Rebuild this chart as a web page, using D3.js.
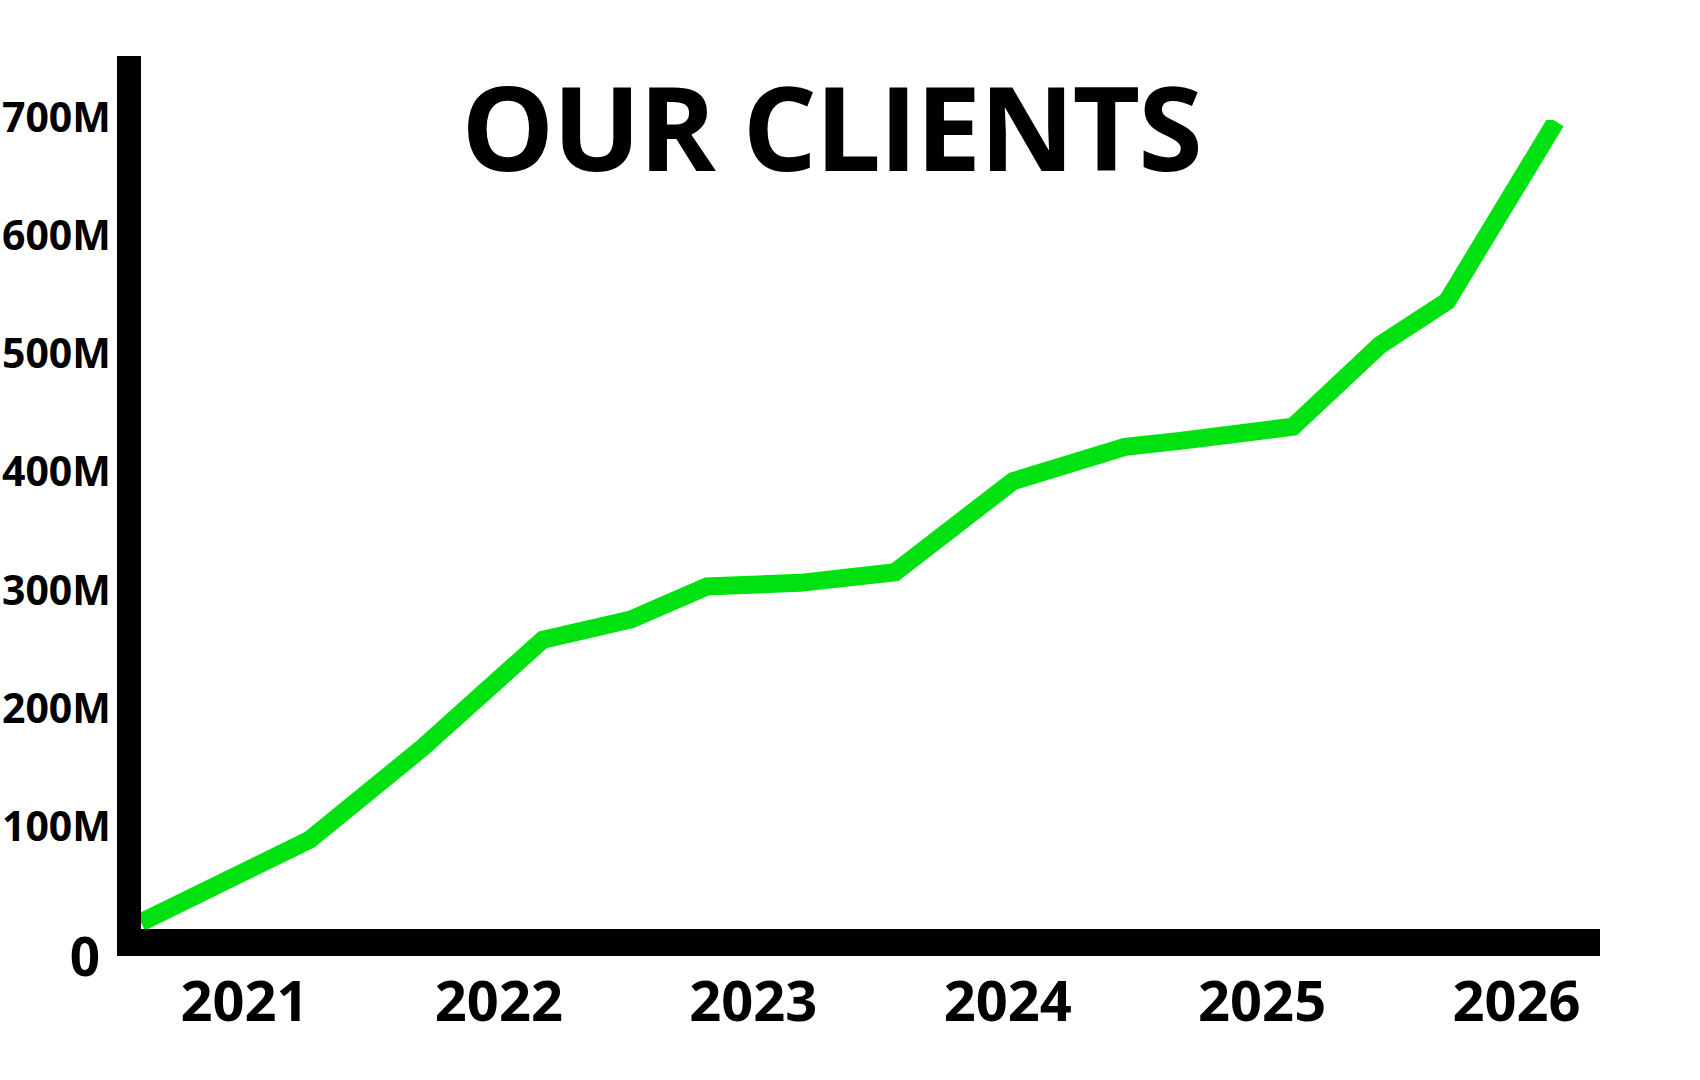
<!DOCTYPE html>
<meta charset="utf-8">
<head>
  <script src="https://d3js.org/d3.v7.min.js"></script>
  <style>
    body { margin: 0; background: #fff; }
    text { font-family: "Noto Sans", sans-serif; font-weight: bold; fill: #000; }
  </style>
</head>
<body>
  <div id="my_dataviz"></div>
</body>
<script>
  // data
  var title = "OUR CLIENTS";
  var years = [2021, 2022, 2023, 2024, 2025, 2026];
  var yTicks = [0, 100, 200, 300, 400, 500, 600, 700];   // millions
  var lineYears = [2020.595, 2021.259, 2021.704, 2022.175, 2022.521, 2022.820, 2023.186, 2023.559,
                   2024.023, 2024.463, 2024.679, 2025.123, 2025.465, 2025.729, 2026.157];
  var lineValues = [20, 90, 168, 259, 276, 304, 307, 316,
                    393, 422, 427, 439, 508, 545, 697];

  var data = lineYears.map(function (d, i) { return { year: d, value: lineValues[i] }; });

  var width = 1700, height = 1080;

  var svg = d3.select("#my_dataviz")
    .append("svg")
    .attr("width", width)
    .attr("height", height);

  // scales
  var x = d3.scaleLinear().domain([2021, 2026]).range([244, 1516]);
  var y = d3.scaleLinear().domain([0, 700]).range([946, 118]);

  // clip the top of the line
  svg.append("clipPath").attr("id", "clip")
    .append("rect")
    .attr("x", 0).attr("y", y(700) + 2)
    .attr("width", width).attr("height", height);

  // line
  svg.append("path")
    .datum(data)
    .attr("clip-path", "url(#clip)")
    .attr("fill", "none")
    .attr("stroke", "#00e112")
    .attr("stroke-width", 18)
    .attr("stroke-linejoin", "miter")
    .attr("d", d3.line()
      .x(function (d) { return x(d.year); })
      .y(function (d) { return y(d.value); }));

  // thick axis bars
  svg.append("rect")
    .attr("x", 117).attr("y", 56)
    .attr("width", 24).attr("height", 956 - 56)
    .attr("fill", "#000");
  svg.append("rect")
    .attr("x", 117).attr("y", 929)
    .attr("width", 1600 - 117).attr("height", 27)
    .attr("fill", "#000");

  // Y axis labels
  var yAxis = svg.append("g")
    .attr("transform", "translate(111,0)")
    .call(d3.axisLeft(y)
      .tickValues(yTicks)
      .tickSize(0)
      .tickPadding(0)
      .tickFormat(function (d) { return d === 0 ? "0" : d + "M"; }));
  yAxis.select(".domain").remove();
  yAxis.selectAll("text")
    .style("font-family", "'Noto Sans', sans-serif")
    .style("font-weight", "bold")
    .style("font-size", "41px")
    .attr("fill", "#000");
  yAxis.selectAll(".tick")
    .filter(function (d) { return d === 0; })
    .select("text")
    .style("font-size", "53px")
    .attr("x", -11)
    .attr("dy", "0.55em");

  // X axis labels
  var xAxis = svg.append("g")
    .attr("transform", "translate(0,981)")
    .call(d3.axisBottom(x)
      .tickValues(years)
      .tickSize(0)
      .tickPadding(0)
      .tickFormat(d3.format("d")));
  xAxis.select(".domain").remove();
  xAxis.selectAll("text")
    .style("font-family", "'Noto Sans', sans-serif")
    .style("font-weight", "bold")
    .style("font-size", "56px")
    .attr("fill", "#000");

  // title
  svg.append("text")
    .attr("x", 831)
    .attr("y", 171)
    .attr("text-anchor", "middle")
    .style("font-family", "'Open Sans', sans-serif")
    .style("font-size", "117px")
    .style("letter-spacing", "-2px")
    .text(title);
</script>
